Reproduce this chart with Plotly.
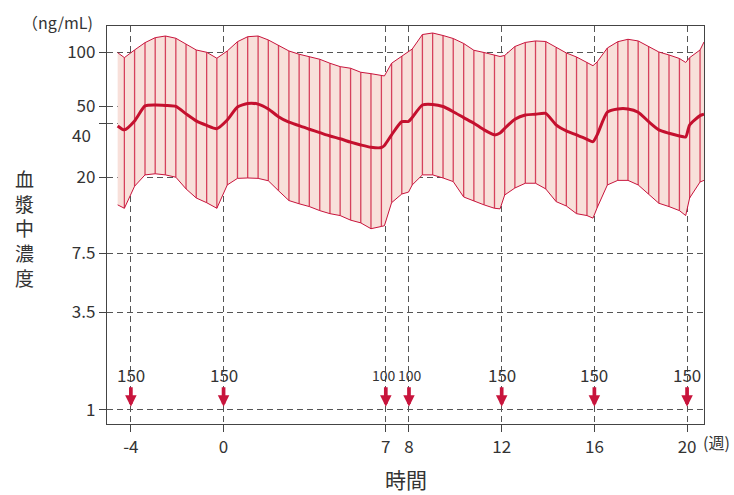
import numpy as np
import plotly.graph_objects as go

# Sampling times (weeks) of the simulated concentration profile
weeks = [-4.57, -4.28, -3.84, -3.39, -2.95, -2.51, -2.06, -1.62, -1.18, -0.73, -0.29,
         0.16, 0.60, 1.04, 1.49, 1.93, 2.37, 2.82, 3.26, 3.70, 4.15, 4.59, 5.03, 5.48,
         5.92, 6.36, 6.81, 6.94, 7.25, 7.69, 7.98, 8.14, 8.58, 9.02, 9.47, 9.91, 10.36,
         10.80, 11.24, 11.69, 11.93, 12.13, 12.57, 13.02, 13.46, 13.90, 14.35, 14.79,
         15.23, 15.68, 15.94, 16.12, 16.56, 17.01, 17.45, 17.89, 18.34, 18.78, 19.22,
         19.67, 19.94, 20.11, 20.56, 20.73]

# Upper limit of the prediction band (ng/mL)
upper = [99.5, 93.3, 103.0, 113.2, 120.7, 123.3, 119.8, 110.8, 103.0, 100.0, 92.6,
         101.7, 114.6, 122.2, 123.3, 117.2, 109.8, 101.7, 97.5, 94.5, 91.4, 86.8, 83.1,
         81.4, 77.3, 75.9, 74.2, 73.7, 86.8, 95.3, 101.0, 104.3, 125.7, 128.2, 124.1,
         119.4, 112.0, 102.6, 99.7, 96.6, 94.7, 96.0, 107.7, 113.5, 115.7, 114.9, 106.1,
         99.1, 94.1, 87.7, 84.1, 88.3, 105.7, 114.6, 118.2, 115.7, 107.5, 100.4, 96.6,
         92.3, 87.7, 93.3, 103.0, 114.2]

# Median concentration (ng/mL)
median = [38.7, 36.8, 41.3, 50.1, 50.7, 50.4, 49.8, 45.2, 41.3, 39.0, 37.4,
          41.8, 49.4, 51.7, 51.3, 48.2, 43.6, 40.6, 38.9, 37.1, 35.5, 34.0, 32.8,
          31.4, 30.3, 29.4, 29.3, 30.1, 34.5, 40.9, 41.0, 43.2, 50.7, 51.1, 49.7,
          46.5, 43.1, 40.1, 36.8, 34.5, 35.3, 37.5, 42.2, 44.6, 45.0, 45.5, 39.2,
          36.3, 34.5, 32.6, 31.6, 34.5, 46.2, 48.2, 48.2, 46.2, 40.9, 36.8, 35.2,
          34.0, 33.6, 39.2, 44.2, 45.0]

# Lower limit of the prediction band (ng/mL)
lower = [14.0, 13.4, 17.8, 20.6, 20.9, 20.6, 20.0, 17.2, 15.3, 14.4, 13.4,
         18.1, 19.7, 19.8, 19.7, 19.1, 16.8, 14.8, 14.2, 13.7, 13.0, 12.5, 12.2,
         11.5, 11.1, 10.3, 10.6, 10.7, 14.4, 16.1, 16.5, 18.1, 20.6, 20.6, 19.8,
         18.9, 15.5, 14.7, 14.0, 13.4, 13.3, 15.9, 17.4, 18.5, 18.5, 17.2, 14.6,
         13.8, 12.5, 12.2, 11.8, 13.5, 18.1, 19.2, 19.2, 18.1, 16.1, 14.3, 13.7,
         13.0, 12.2, 15.3, 18.8, 19.2]

# Band vertices that carry no vertical hatch line (edges and dosing troughs)
outline_only = [-4.57, 6.94, 7.98, 11.93, 15.94, 19.94, 20.73]

# Dosing schedule
dose_weeks = [-4, 0, 7, 8, 12, 16, 20]
dose_mg = [150, 150, 100, 100, 150, 150, 150]

x_ticks = [-4, 0, 7, 8, 12, 16, 20]
y_ticks = [1, 3.5, 7.5, 20, 40, 50, 100]
y_tick_text = ["1", "3.5", "7.5", "20", "", "50", "100"]

FONT = "Noto Sans CJK JP, Noto Sans, sans-serif"
TEXT = "#333333"
CRIMSON = "#c8143c"
FILL = "#f8e0da"

fig = go.Figure()

# shaded band
fig.add_trace(go.Scatter(
    x=weeks + weeks[::-1], y=upper + lower[::-1],
    fill="toself", fillcolor=FILL, mode="lines", line=dict(width=0),
    hoverinfo="skip", showlegend=False))

# vertical hatch lines across the band
hx, hy = [], []
for w, lo, hi in zip(weeks, lower, upper):
    if w in outline_only:
        continue
    hx += [w, w, None]
    hy += [lo, hi, None]
fig.add_trace(go.Scatter(x=hx, y=hy, mode="lines",
                         line=dict(color="rgba(205,25,60,0.8)", width=1.3),
                         hoverinfo="skip", showlegend=False))

# band limits
for series in (upper, lower):
    fig.add_trace(go.Scatter(x=weeks, y=series, mode="lines",
                             line=dict(color=CRIMSON, width=1),
                             hoverinfo="skip", showlegend=False))

# median
fig.add_trace(go.Scatter(x=weeks, y=median, mode="lines",
                         line=dict(color="#c4102e", width=3, shape="spline", smoothing=0.6),
                         hoverinfo="skip", showlegend=False))

annotations = []

# dosing arrows and doses
for w, mg in zip(dose_weeks, dose_mg):
    annotations.append(dict(
        x=w, y=np.log10(1.04), xref="x", yref="y", text="", showarrow=True,
        ax=0, ay=-21, arrowhead=2, arrowsize=0.62, arrowwidth=3.7,
        arrowcolor=CRIMSON, standoff=0))
    narrow = mg < 150
    annotations.append(dict(
        x=w, y=np.log10(1.57), xref="x", yref="y", text=str(mg), showarrow=False,
        font=dict(family=FONT, size=14 if narrow else 17, color=TEXT),
        xanchor="center", yanchor="middle",
        xshift=(-1.5 if w == 7 else 1.5 if w == 8 else 0)))

# "40" label sits a little below its tick
annotations.append(dict(x=0, y=np.log10(40), xref="paper", yref="y", text="40",
                        showarrow=False, xanchor="right", yanchor="middle",
                        xshift=-14, yshift=-11,
                        font=dict(family=FONT, size=17, color=TEXT)))

# unit labels
annotations.append(dict(x=0, y=1, xref="paper", yref="paper", text="（ng/mL)",
                        showarrow=False, xanchor="center", yanchor="middle",
                        xshift=-50, yshift=4,
                        font=dict(family=FONT, size=16, color=TEXT)))
annotations.append(dict(x=1, y=0, xref="paper", yref="paper", text="(週)",
                        showarrow=False, xanchor="left", yanchor="middle",
                        xshift=-3, yshift=-18,
                        font=dict(family=FONT, size=16, color=TEXT)))

# axis titles
annotations.append(dict(x=0.5, y=0, xref="paper", yref="paper", text="時間",
                        showarrow=False, xanchor="center", yanchor="middle",
                        yshift=-55, font=dict(family=FONT, size=21, color=TEXT)))
annotations.append(dict(x=0, y=1, xref="paper", yref="paper",
                        text="<br>".join("血漿中濃度"),
                        showarrow=False, xanchor="center", yanchor="middle",
                        xshift=-83, yshift=-201.5,
                        font=dict(family=FONT, size=19, color=TEXT)))

axis_common = dict(
    showline=True, linecolor="#444444", linewidth=1.3, mirror=True,
    ticks="outside", ticklen=7, tickwidth=1.2, tickcolor="#444444",
    showgrid=True, gridcolor="#555555", gridwidth=1.1, griddash="6px,4px",
    zeroline=False, tickfont=dict(family=FONT, size=17, color=TEXT),
)

fig.update_layout(
    width=734, height=495,
    margin=dict(l=107, r=30, t=26, b=71),
    paper_bgcolor="white", plot_bgcolor="white",
    showlegend=False,
    xaxis=dict(range=[-5.03, 20.73], tickmode="array", tickvals=x_ticks,
               ticktext=[str(t) for t in x_ticks], **axis_common),
    yaxis=dict(type="log", range=[-0.080, 2.147], tickmode="array",
               tickvals=y_ticks, ticktext=y_tick_text, **axis_common),
    annotations=annotations,
)

fig.write_html("out.html")
